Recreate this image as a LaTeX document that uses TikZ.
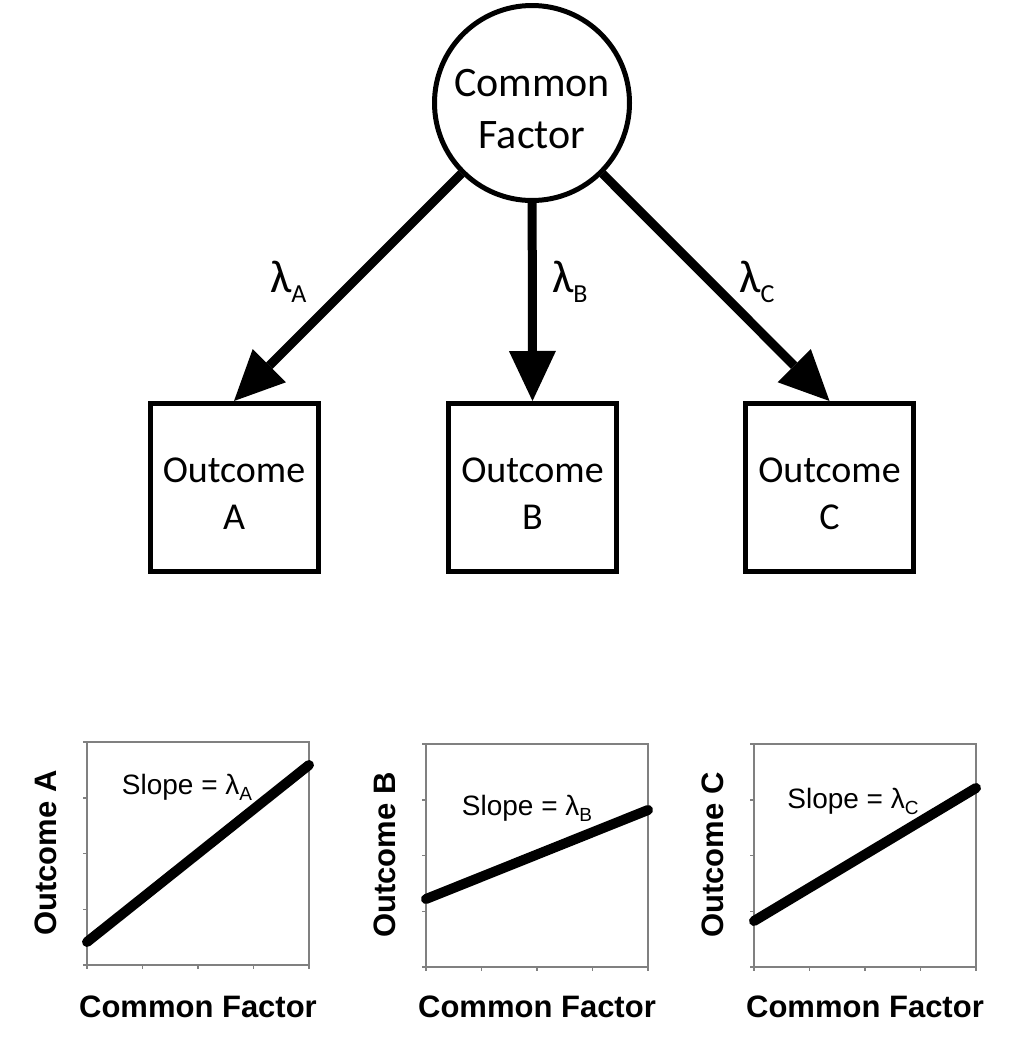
\documentclass[tikz,border=0pt]{standalone}
\usepackage{fontspec}
\setmainfont{Carlito}
\newfontfamily\plotfont{Liberation Sans}
\usetikzlibrary{arrows.meta}
\tikzset{
  factor/.style={draw, circle, line width=5pt, minimum size=195pt, inner sep=0pt, align=center, font=\fontsize{42}{52}\selectfont},
  outcome/.style={draw, rectangle, line width=5pt, minimum width=168pt, minimum height=168pt, align=center, font=\fontsize{38}{47}\selectfont},
  load/.style={line width=9pt, -{Triangle[length=50pt, width=47pt, line width=0pt]}},
  lam/.style={inner sep=0pt, anchor=base west, font=\fontsize{46}{46}\selectfont},
  frm/.style={draw=black!50, line width=1.5pt},
  trend/.style={line width=10pt, line cap=round},
  slopetxt/.style={inner sep=0pt, anchor=base, font=\plotfont\fontsize{28}{28}\selectfont},
  axl/.style={inner sep=0pt, font=\plotfont\bfseries\fontsize{31}{31}\selectfont}
}
\begin{document}
\begin{tikzpicture}[x=1pt,y=-1pt]
  \useasboundingbox (0,0) rectangle (1009,1050);

  \node[factor] (cf) at (532,103) {\rule{0pt}{40pt}Common\\Factor};
  \node[outcome] (oa) at (234,487.5) {\rule{0pt}{38pt}Outcome\\A\rule[-2pt]{0pt}{2pt}};
  \node[outcome] (ob) at (532.5,487.5) {\rule{0pt}{38pt}Outcome\\B\rule[-2pt]{0pt}{2pt}};
  \node[outcome] (oc) at (829.5,487.5) {\rule{0pt}{38pt}Outcome\\C\rule[-2pt]{0pt}{2pt}};

  \draw[load] (cf) -- (oa.north);
  \draw[load] (cf) -- (ob.north);
  \draw[load] (cf) -- (oc.north);

  \node[lam] (la) at (270,292) {λ\raisebox{-10pt}{\fontsize{26}{26}\selectfont A}};
  \node[lam] (lb) at (552,292) {λ\raisebox{-10pt}{\fontsize{26}{26}\selectfont B}};
  \node[lam] (lc) at (739,292) {λ\raisebox{-10pt}{\fontsize{26}{26}\selectfont C}};

  % the three small plots
  \foreach \l/\x/\t/\ya/\yb/\sx/\sy in {A/87/742/942/765/187/794, B/426/744/899/810/527/815, C/754/744/921/788/853/808}{
    \draw[frm] (\x,\t) rectangle (\x+222,\t+223);
    \foreach \k in {0,...,4}{
      \draw[frm] (\x-4,\t+\k*55.75) -- (\x,\t+\k*55.75);
      \draw[frm] (\x+\k*55.5,\t+223) -- (\x+\k*55.5,\t+227);
    }
    \draw[trend] (\x,\ya) -- (\x+222,\yb);
    \node[slopetxt] (s\l) at (\sx,\sy) {Slope = λ\raisebox{-6pt}{\fontsize{19}{19}\selectfont \l}};
    \node[axl, rotate=90] (y\l) at (\x-41,\t+111) {Outcome \l};
    \node[axl, anchor=base] (x\l) at (\x+111,1017) {Common Factor};
  }
\end{tikzpicture}
\end{document}
